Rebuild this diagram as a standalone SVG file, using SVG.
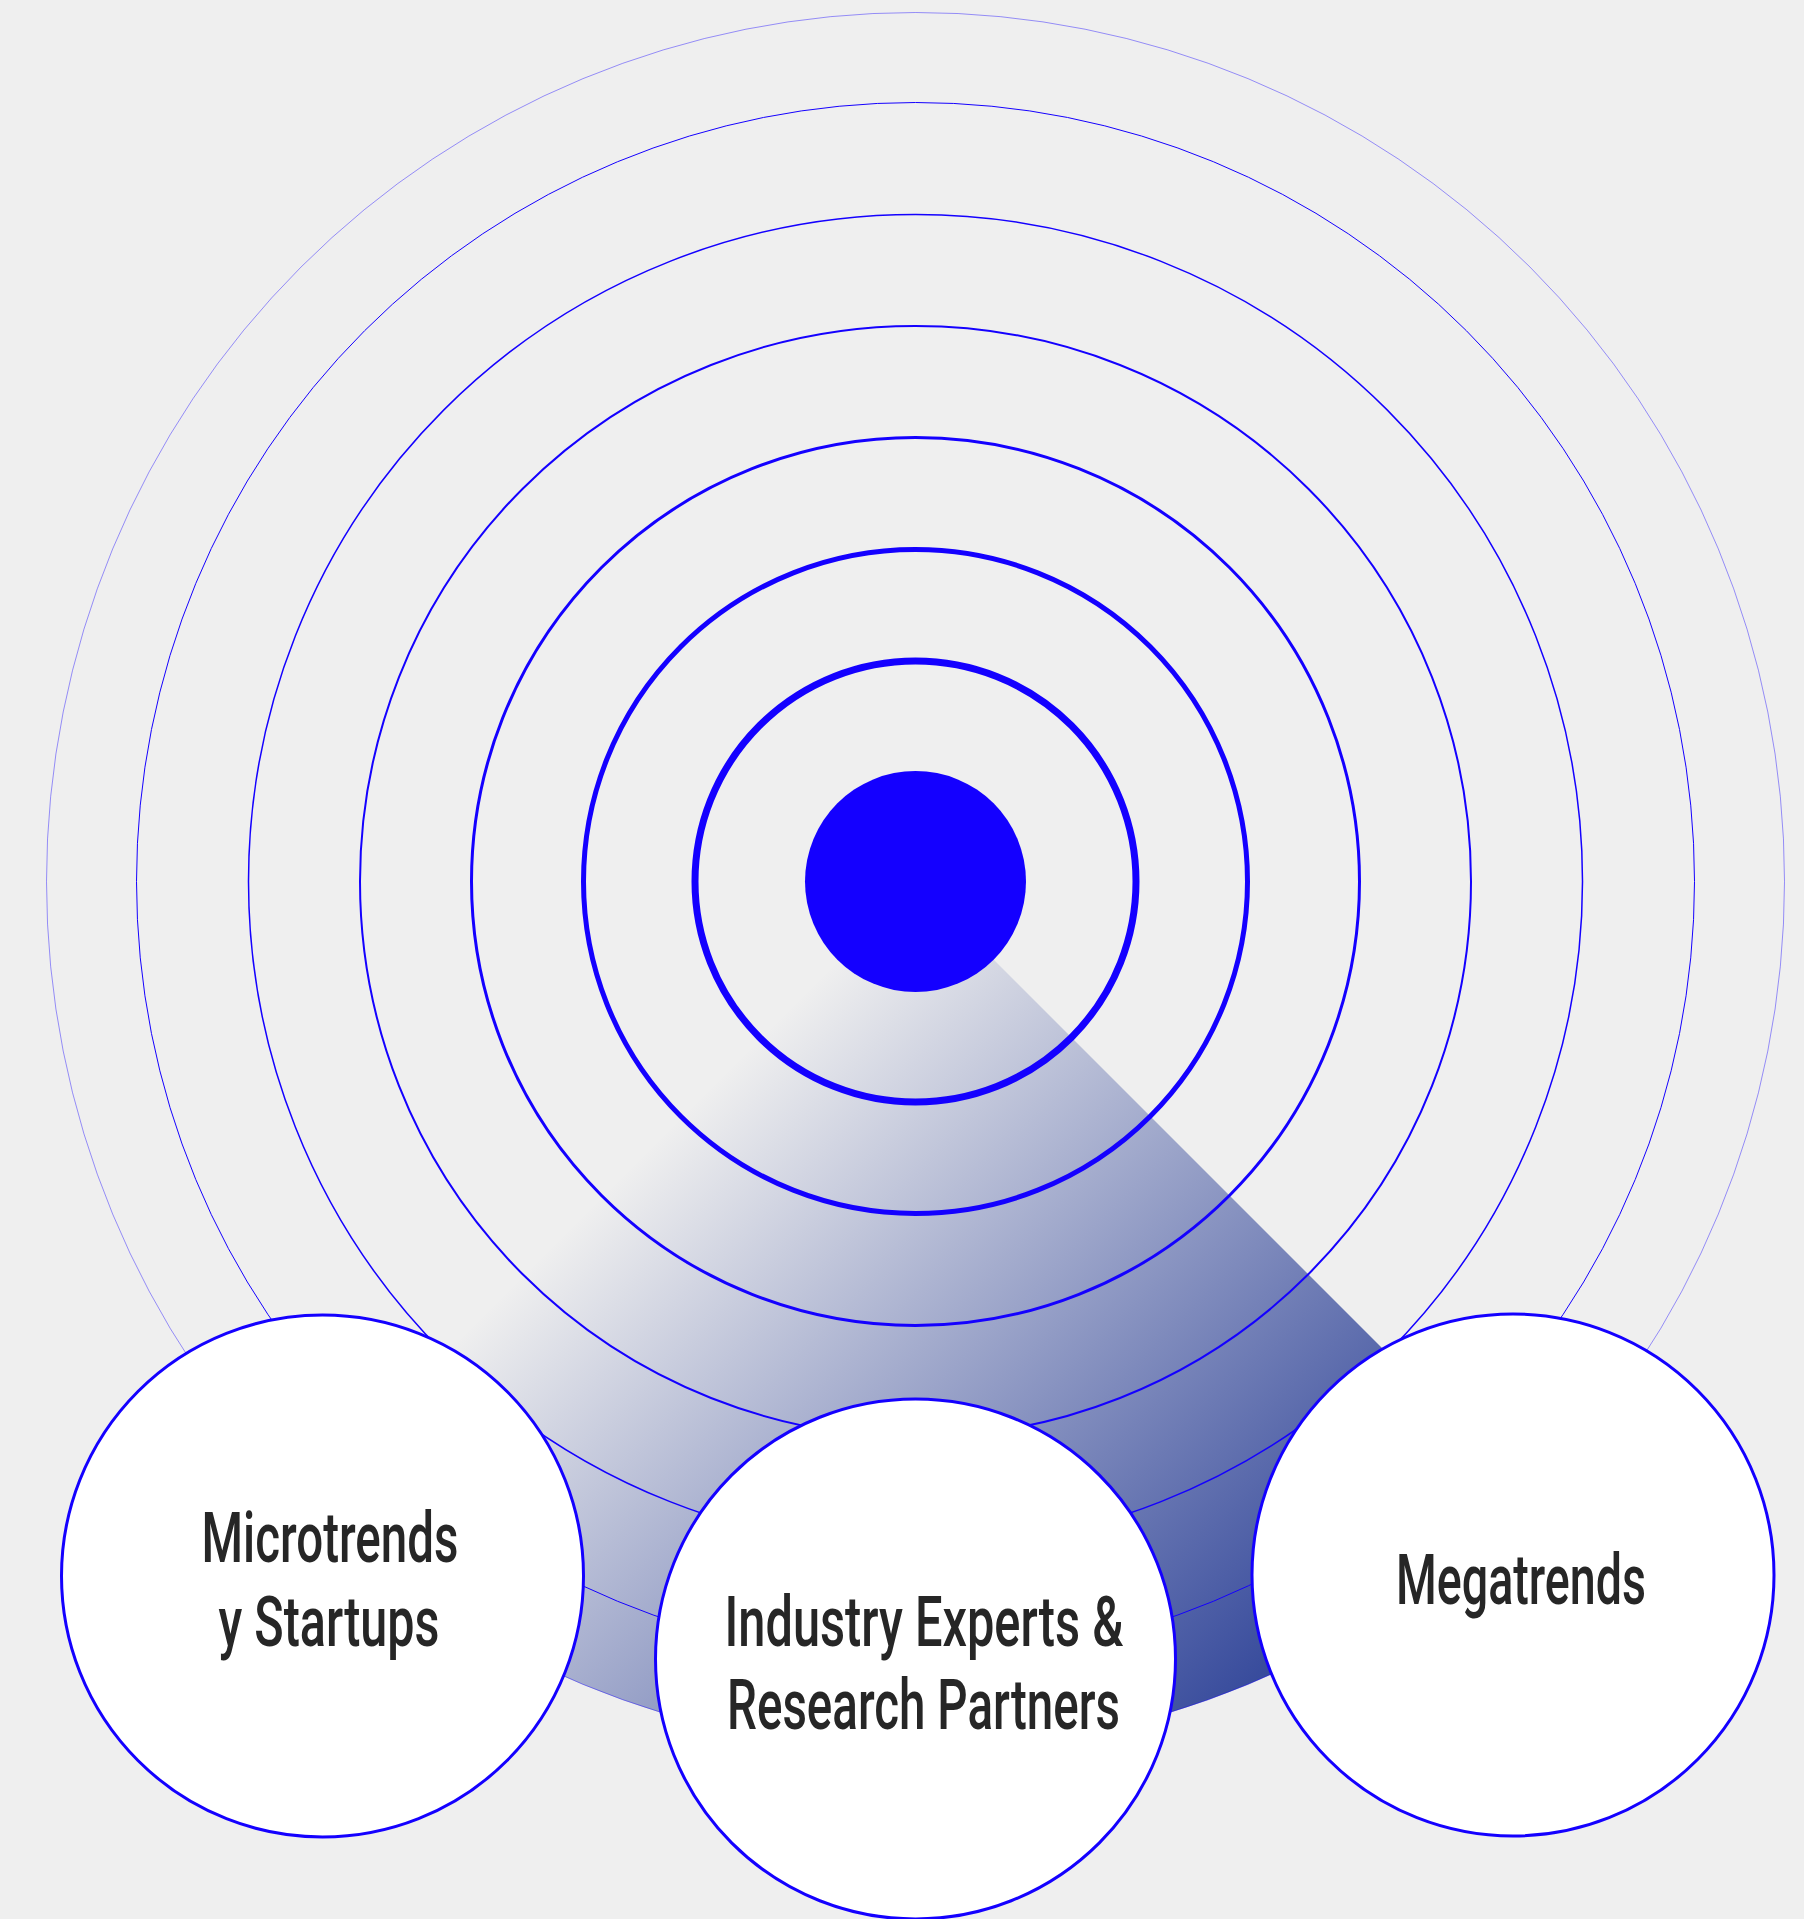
<svg xmlns="http://www.w3.org/2000/svg" width="1804" height="1919" viewBox="0 0 1804 1919">
<defs>
<linearGradient id="sweep" gradientUnits="userSpaceOnUse" x1="915.5" y1="881.5" x2="1502" y2="1468">
<stop offset="0" stop-color="#33479a" stop-opacity="0"/>
<stop offset="1" stop-color="#33479a" stop-opacity="1"/>
</linearGradient>
<style>
.ring{fill:none;stroke:#1400ff}
.node{fill:#ffffff;stroke:#1400ff;stroke-width:3}
.lbl{font-family:Roboto,"Liberation Sans",sans-serif;font-size:70px;font-weight:500;fill:#262626;text-anchor:middle}
</style>
</defs>
<rect x="0" y="0" width="1804" height="1919" fill="#efefef"/>
<g id="sweep-sector">
<path d="M915.5 881.5 L1530 1496 A869 869 0 0 1 301 1496 Z" fill="url(#sweep)"/>
</g>
<g id="rings">
<circle class="ring" cx="915.5" cy="881.5" r="869" stroke-width="0.7" stroke-opacity="0.6"/>
<circle class="ring" cx="915.5" cy="881.5" r="779" stroke-width="1"/>
<circle class="ring" cx="915.5" cy="881.5" r="667" stroke-width="1.5"/>
<circle class="ring" cx="915.5" cy="881.5" r="555.5" stroke-width="2"/>
<circle class="ring" cx="915.5" cy="881.5" r="444" stroke-width="3"/>
<circle class="ring" cx="915.5" cy="881.5" r="332" stroke-width="5"/>
<circle class="ring" cx="915.5" cy="881.5" r="220.5" stroke-width="7"/>
<circle id="core" cx="915.5" cy="881.5" r="110.5" fill="#1400ff"/>
</g>
<g id="node-microtrends">
<circle class="node" cx="322.5" cy="1576" r="261"/>
<text class="lbl" x="330" y="1562" textLength="257" lengthAdjust="spacingAndGlyphs">Microtrends</text>
<text class="lbl" x="329" y="1646" textLength="221" lengthAdjust="spacingAndGlyphs">y Startups</text>
</g>
<g id="node-industry">
<circle class="node" cx="915.5" cy="1659" r="260"/>
<text class="lbl" x="924" y="1646" textLength="399" lengthAdjust="spacingAndGlyphs">Industry Experts &amp;</text>
<text class="lbl" x="923.5" y="1729" textLength="393" lengthAdjust="spacingAndGlyphs">Research Partners</text>
</g>
<g id="node-megatrends">
<circle class="node" cx="1513" cy="1575" r="261"/>
<text class="lbl" x="1521" y="1604" textLength="250" lengthAdjust="spacingAndGlyphs">Megatrends</text>
</g>
</svg>
